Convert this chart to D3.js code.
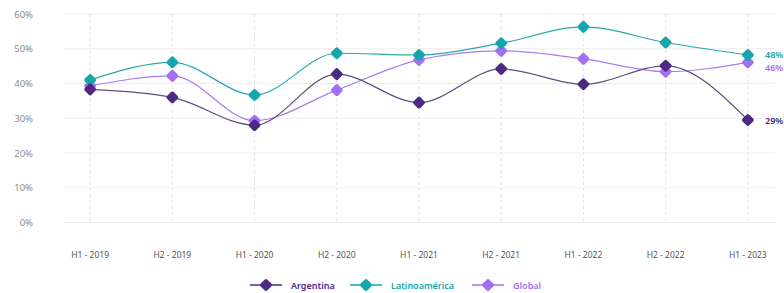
<!DOCTYPE html>
<html>
<head>
<meta charset="utf-8">
<script src="https://cdn.jsdelivr.net/npm/d3@7"></script>
<style>
  body { margin: 0; background: #fff; }
  svg { font-family: "Noto Sans", sans-serif; }
</style>
</head>
<body>
<svg width="784" height="293"></svg>
<script>
// data
const periods = ["H1 - 2019", "H2 - 2019", "H1 - 2020", "H2 - 2020", "H1 - 2021",
                 "H2 - 2021", "H1 - 2022", "H2 - 2022", "H1 - 2023"];
const argentina = [38.3, 36.0, 28.0, 42.7, 34.5, 44.2, 39.8, 45.1, 29.5];
const latam     = [41.0, 46.1, 36.7, 48.7, 48.2, 51.6, 56.3, 51.8, 48.2];
const global    = [39.3, 42.2, 29.3, 38.1, 46.8, 49.4, 47.1, 43.4, 46.1];
const yTicks = [0, 10, 20, 30, 40, 50, 60];
const endLabels = ["29%", "48%", "46%"];

const series = [
  { name: "Argentina", values: argentina, color: "#4b2a82", line: "#5e4e7e", label: endLabels[0], dy: 1 },
  { name: "Latinoamérica", values: latam, color: "#14a6aa", line: "#27a9ab", label: endLabels[1], dy: -1 },
  { name: "Global", values: global, color: "#a46ef5", line: "#a97cf0", label: endLabels[2], dy: 5 }
];

const svg = d3.select("svg");
const plotLeft = 63, plotRight = 775, plotTop = 14, plotBottom = 222.5;

let x = d3.scalePoint().domain(periods).range([plotLeft, plotRight]).padding(0.33);
let y = d3.scaleLinear().domain([0, 60]).range([plotBottom, plotTop]);

// horizontal grid
svg.append("g").selectAll("line")
  .data(yTicks).enter().append("line")
    .attr("x1", plotLeft).attr("x2", plotRight)
    .attr("y1", d => y(d)).attr("y2", d => y(d))
    .attr("stroke", "#ececec").attr("stroke-width", 1);

// vertical dashed grid
svg.append("g").selectAll("line")
  .data(periods).enter().append("line")
    .attr("x1", d => x(d)).attr("x2", d => x(d))
    .attr("y1", plotTop).attr("y2", plotBottom)
    .attr("stroke", "#e2e2e2").attr("stroke-dasharray", "3,3");

// y axis labels
svg.append("g").selectAll("text")
  .data(yTicks).enter().append("text")
    .attr("x", 33).attr("y", d => y(d) + 3.5)
    .attr("text-anchor", "end")
    .attr("font-size", 9.5).attr("fill", "#8a8a8a")
    .text(d => d + "%");

// x axis labels
svg.append("g").selectAll("text")
  .data(periods).enter().append("text")
    .attr("x", d => x(d)).attr("y", 258)
    .attr("text-anchor", "middle")
    .attr("font-size", 8.5).attr("fill", "#555")
    .text(d => d);

const line = d3.line()
  .x((d, i) => x(periods[i]))
  .y(d => y(d))
  .curve(d3.curveMonotoneX);

function diamond(sel, size) {
  sel.append("rect")
    .attr("x", -size / 2).attr("y", -size / 2)
    .attr("width", size).attr("height", size)
    .attr("rx", 2)
    .attr("transform", "rotate(45)");
}

// draw order: global, latam, argentina on top
[series[2], series[1], series[0]].forEach(s => {
  svg.append("path")
    .datum(s.values)
    .attr("fill", "none")
    .attr("stroke", s.line)
    .attr("stroke-width", 1.2)
    .attr("d", line);
});

[series[2], series[1], series[0]].forEach(s => {
  svg.append("g").selectAll("g")
    .data(s.values).enter().append("g")
      .attr("transform", (d, i) => "translate(" + x(periods[i]) + "," + y(d) + ")")
      .attr("fill", s.color)
      .call(diamond, 9.5);
});

// end labels
series.forEach(s => {
  let last = s.values[s.values.length - 1];
  svg.append("text")
    .attr("x", 765).attr("y", y(last) + 3.5 + s.dy)
    .attr("font-size", 9).attr("font-weight", 600)
    .attr("fill", s.color)
    .text(s.label);
});

// legend
const legendX = [266, 366, 488];
series.forEach((s, i) => {
  let g = svg.append("g").attr("transform", "translate(" + legendX[i] + ",285)");
  g.append("line").attr("x1", -16).attr("x2", 16)
    .attr("stroke", s.color).attr("stroke-width", 1.5);
  g.append("g").attr("fill", s.color).call(diamond, 9.5);
  g.append("text").attr("x", 25).attr("y", 3.5)
    .attr("font-size", 9).attr("font-weight", 600)
    .attr("fill", s.color)
    .text(s.name);
});
</script>
</body>
</html>
